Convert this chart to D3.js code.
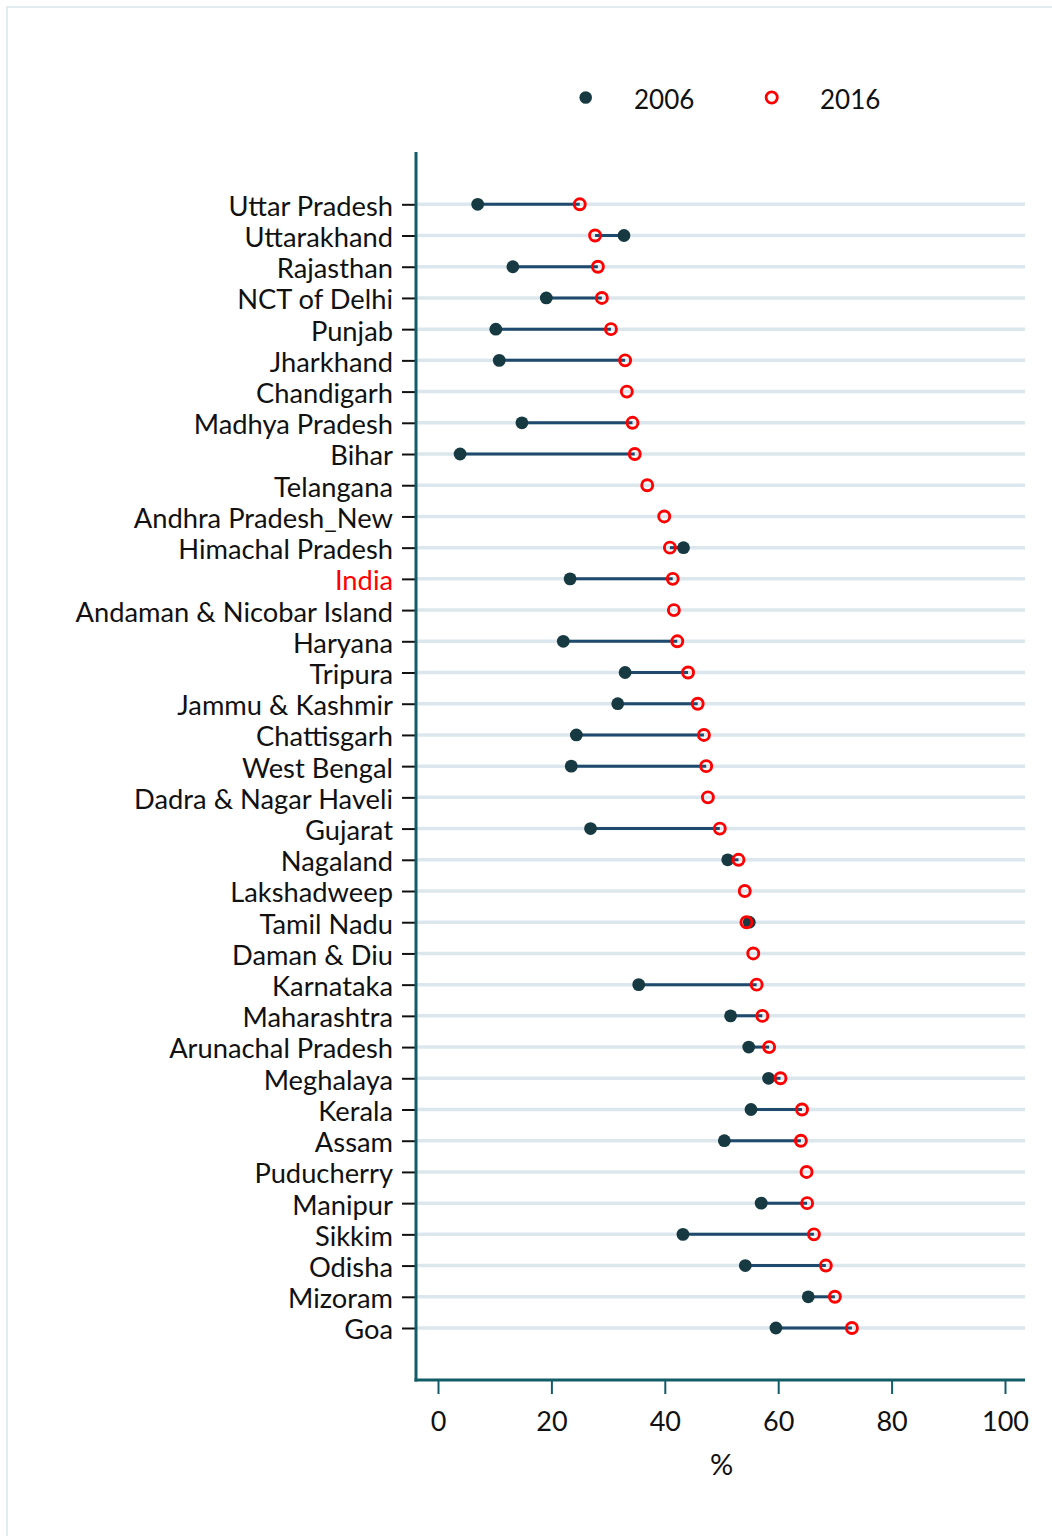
<!DOCTYPE html>
<html>
<head>
<meta charset="utf-8">
<script src="https://cdn.jsdelivr.net/npm/d3@7"></script>
<style>
  html, body { margin: 0; padding: 0; background: #fff; }
  svg { display: block; }
  text { font-family: Lato, "Open Sans", sans-serif; }
</style>
</head>
<body>
<script>
const states = ["Uttar Pradesh","Uttarakhand","Rajasthan","NCT of Delhi","Punjab","Jharkhand","Chandigarh","Madhya Pradesh","Bihar","Telangana","Andhra Pradesh_New","Himachal Pradesh","India","Andaman & Nicobar Island","Haryana","Tripura","Jammu & Kashmir","Chattisgarh","West Bengal","Dadra & Nagar Haveli","Gujarat","Nagaland","Lakshadweep","Tamil Nadu","Daman & Diu","Karnataka","Maharashtra","Arunachal Pradesh","Meghalaya","Kerala","Assam","Puducherry","Manipur","Sikkim","Odisha","Mizoram","Goa"];
const values2006 = [7.0,32.8,13.2,19.1,10.2,10.8,null,14.8,3.9,null,null,43.3,23.3,null,22.1,33.0,31.7,24.4,23.5,null,26.9,51.1,null,54.9,null,35.4,51.6,54.8,58.3,55.2,50.5,null,57.0,43.2,54.2,65.3,59.6];
const values2016 = [25.0,27.7,28.2,28.9,30.5,33.0,33.3,34.3,34.7,36.9,39.9,40.9,41.4,41.6,42.2,44.1,45.8,46.9,47.3,47.6,49.7,53.0,54.1,54.4,55.6,56.2,57.2,58.4,60.4,64.2,64.0,65.0,65.1,66.3,68.4,70.0,73.0];
const xTicks = [0,20,40,60,80,100];
const legendLabels = ["2006","2016"];
const xTitle = "%";

const W = 1052, H = 1536;
const svg = d3.select("body").append("svg").attr("width", W).attr("height", H);

// outer frame
svg.append("rect").attr("x", 7).attr("y", 7).attr("width", 1200).attr("height", 1700)
  .attr("fill", "none").attr("stroke", "#e2ecef").attr("stroke-width", 2);

const axisX = 416, axisBottom = 1380, axisTop = 152, plotRight = 1025;
const x = d3.scaleLinear().domain([0, 100]).range([438, 1005]);
const y = d3.scalePoint().domain(states).range([204.3, 1328]);

const data = states.map((s, i) => ({ s, a: values2006[i], b: values2016[i] }));

// gridlines
svg.append("g").selectAll("line").data(states).join("line")
  .attr("x1", axisX).attr("x2", plotRight)
  .attr("y1", d => y(d)).attr("y2", d => y(d))
  .attr("stroke", "#dce7ed").attr("stroke-width", 3.5);

// connecting lines
svg.append("g").selectAll("line").data(data.filter(d => d.a != null && d.b != null)).join("line")
  .attr("x1", d => x(d.a)).attr("x2", d => x(d.b))
  .attr("y1", d => y(d.s)).attr("y2", d => y(d.s))
  .attr("stroke", "#1f4a6e").attr("stroke-width", 3);

// 2006 points
svg.append("g").selectAll("circle").data(data.filter(d => d.a != null)).join("circle")
  .attr("cx", d => x(d.a)).attr("cy", d => y(d.s)).attr("r", 6.4)
  .attr("fill", "#173a42");

// 2016 points
svg.append("g").selectAll("circle").data(data.filter(d => d.b != null)).join("circle")
  .attr("cx", d => x(d.b)).attr("cy", d => y(d.s)).attr("r", 5.5)
  .attr("fill", "none").attr("stroke", "#ff0000").attr("stroke-width", 2.9);

// y axis
const yAxis = d3.axisLeft(y).tickSize(14).tickPadding(9);
const gy = svg.append("g").attr("transform", `translate(${axisX},0)`).call(yAxis);
gy.select(".domain").remove();
gy.selectAll(".tick line").attr("stroke", "#111").attr("stroke-width", 2);
gy.selectAll(".tick text").attr("font-size", 27.3).attr("fill", d => d === "India" ? "#ff0000" : "#111")
  .attr("font-family", "Lato, 'Open Sans', sans-serif").attr("dy", "0.4em");

svg.append("line").attr("x1", axisX).attr("x2", axisX).attr("y1", axisTop).attr("y2", axisBottom + 1.5)
  .attr("stroke", "#125c68").attr("stroke-width", 3);

// x axis
const xAxis = d3.axisBottom(x).tickValues(xTicks).tickSize(14).tickPadding(18).tickSizeOuter(0);
const gx = svg.append("g").attr("transform", `translate(0,${axisBottom})`).call(xAxis);
gx.select(".domain").remove();
gx.selectAll(".tick line").attr("stroke", "#125c68").attr("stroke-width", 2);
gx.selectAll(".tick text").attr("font-size", 27).attr("fill", "#111")
  .attr("font-family", "Lato, 'Open Sans', sans-serif");
svg.append("line").attr("x1", axisX - 1.5).attr("x2", plotRight).attr("y1", axisBottom).attr("y2", axisBottom)
  .attr("stroke", "#125c68").attr("stroke-width", 3);

svg.append("text").attr("x", x(50)).attr("y", 1475).attr("text-anchor", "middle")
  .attr("font-size", 29).attr("fill", "#111").text(xTitle);

// legend
const lg = svg.append("g");
lg.append("circle").attr("cx", 585.7).attr("cy", 97.5).attr("r", 6.3).attr("fill", "#173a42");
lg.append("text").attr("x", 634).attr("y", 100).attr("dy", "0.35em").attr("font-size", 26).attr("fill", "#111").text(legendLabels[0]);
lg.append("circle").attr("cx", 771.7).attr("cy", 97.5).attr("r", 5.6).attr("fill", "none").attr("stroke", "#ff0000").attr("stroke-width", 2.8);
lg.append("text").attr("x", 820).attr("y", 100).attr("dy", "0.35em").attr("font-size", 26).attr("fill", "#111").text(legendLabels[1]);
</script>
</body>
</html>
